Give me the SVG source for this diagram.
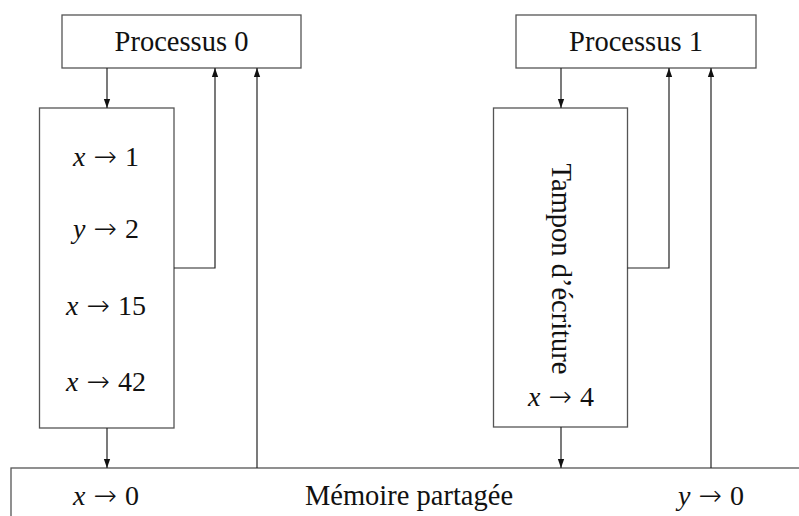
<svg xmlns="http://www.w3.org/2000/svg" width="799" height="516" viewBox="0 0 799 516">
<style>
.box{fill:#fff;stroke:#555;stroke-width:1.3}
.ln{fill:none;stroke:#222;stroke-width:1.2}
.t{font-family:"Liberation Serif","DejaVu Serif",serif;font-size:28.5px;fill:#111;text-anchor:middle}
.m{font-family:"Liberation Serif","DejaVu Serif",serif;font-size:28px;fill:#111;text-anchor:middle}
.i{font-style:italic}
.a{font-family:"DejaVu Sans",sans-serif;font-size:28px;font-weight:200}
</style>
<defs>
<marker id="ah" viewBox="0 0 10 10" refX="10" refY="5" markerWidth="9" markerHeight="9" markerUnits="userSpaceOnUse" orient="auto">
<path d="M0,1.5 L10,5 L0,8.5 Z" fill="#111"/>
</marker>
</defs>
<rect width="799" height="516" fill="#fff"/>
<g id="memoire">
<rect class="box" x="11" y="468" width="800" height="60"/>
<text class="m" x="106" y="505"><tspan class="i">x</tspan><tspan class="a" dx="8">→</tspan><tspan dx="8">0</tspan></text>
<text class="t" x="409" y="505">Mémoire partagée</text>
<text class="m" x="711" y="505"><tspan class="i">y</tspan><tspan class="a" dx="8">→</tspan><tspan dx="8">0</tspan></text>
</g>
<g id="processus0">
<rect class="box" x="62" y="15" width="239" height="53"/>
<text class="t" x="181.5" y="51">Processus 0</text>
</g>
<g id="processus1">
<rect class="box" x="516" y="15" width="240" height="53"/>
<text class="t" x="636" y="51">Processus 1</text>
</g>
<g id="tampon0">
<rect class="box" x="39.5" y="108" width="134.5" height="320"/>
<text class="m" x="106" y="166"><tspan class="i">x</tspan><tspan class="a" dx="8">→</tspan><tspan dx="8">1</tspan></text>
<text class="m" x="106" y="238"><tspan class="i">y</tspan><tspan class="a" dx="8">→</tspan><tspan dx="8">2</tspan></text>
<text class="m" x="106" y="315"><tspan class="i">x</tspan><tspan class="a" dx="8">→</tspan><tspan dx="8">15</tspan></text>
<text class="m" x="106" y="391"><tspan class="i">x</tspan><tspan class="a" dx="8">→</tspan><tspan dx="8">42</tspan></text>
</g>
<g id="tampon1">
<rect class="box" x="493.5" y="108" width="134" height="319"/>
<text class="t" transform="translate(552,269) rotate(90)" x="0" y="0">Tampon d’écriture</text>
<text class="m" x="561" y="406"><tspan class="i">x</tspan><tspan class="a" dx="8">→</tspan><tspan dx="8">4</tspan></text>
</g>
<g id="connecteurs">
<path class="ln" d="M107,68 V108" marker-end="url(#ah)"/>
<path class="ln" d="M107,428 V468" marker-end="url(#ah)"/>
<path class="ln" d="M174,268 H215 V68" marker-end="url(#ah)"/>
<path class="ln" d="M257,468 V68" marker-end="url(#ah)"/>
<path class="ln" d="M561,68 V108" marker-end="url(#ah)"/>
<path class="ln" d="M561,427 V468" marker-end="url(#ah)"/>
<path class="ln" d="M627.5,268 H669 V68" marker-end="url(#ah)"/>
<path class="ln" d="M711,468 V68" marker-end="url(#ah)"/>
</g>
</svg>
